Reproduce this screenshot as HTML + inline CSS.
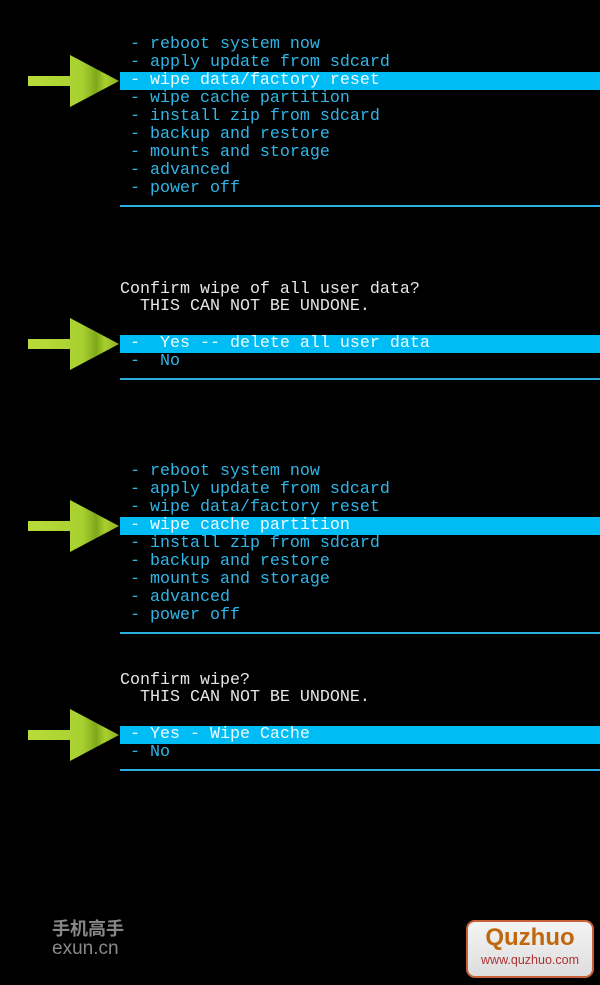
<!DOCTYPE html>
<html><head><meta charset="utf-8"><style>
html,body{margin:0;padding:0;background:#000;}
body{width:600px;height:985px;position:relative;overflow:hidden;font-family:"Liberation Mono","DejaVu Sans Mono",monospace;}
.t{position:absolute;left:120px;height:18px;line-height:18px;font-size:16.67px;white-space:pre;color:#2fb6e8;}
.w{color:#e6e6e6;}
.hl{background:#00bcf5;color:#f0fbff;width:480px;}
.ln{position:absolute;left:120px;width:480px;height:2px;background:#2aaee0;}
.arr{position:absolute;left:28px;width:92px;height:52px;}
</style></head><body>

<div class="t" style="top:36px"> - reboot system now</div>
<div class="t" style="top:54px"> - apply update from sdcard</div>
<div class="t hl" style="top:72px"> - wipe data/factory reset</div>
<div class="t" style="top:90px"> - wipe cache partition</div>
<div class="t" style="top:108px"> - install zip from sdcard</div>
<div class="t" style="top:126px"> - backup and restore</div>
<div class="t" style="top:144px"> - mounts and storage</div>
<div class="t" style="top:162px"> - advanced</div>
<div class="t" style="top:180px"> - power off</div>
<div class="ln" style="top:205px"></div>

<div class="t w" style="top:281px">Confirm wipe of all user data?</div>
<div class="t w" style="top:298px">  THIS CAN NOT BE UNDONE.</div>
<div class="t hl" style="top:335px"> -  Yes -- delete all user data</div>
<div class="t" style="top:353px"> -  No</div>
<div class="ln" style="top:378px"></div>

<div class="t" style="top:463px"> - reboot system now</div>
<div class="t" style="top:481px"> - apply update from sdcard</div>
<div class="t" style="top:499px"> - wipe data/factory reset</div>
<div class="t hl" style="top:517px"> - wipe cache partition</div>
<div class="t" style="top:535px"> - install zip from sdcard</div>
<div class="t" style="top:553px"> - backup and restore</div>
<div class="t" style="top:571px"> - mounts and storage</div>
<div class="t" style="top:589px"> - advanced</div>
<div class="t" style="top:607px"> - power off</div>
<div class="ln" style="top:632px"></div>

<div class="t w" style="top:672px">Confirm wipe?</div>
<div class="t w" style="top:689px">  THIS CAN NOT BE UNDONE.</div>
<div class="t hl" style="top:726px"> - Yes - Wipe Cache</div>
<div class="t" style="top:744px"> - No</div>
<div class="ln" style="top:769px"></div>

<svg width="0" height="0" style="position:absolute"><defs>
<linearGradient id="g" x1="0" x2="1" y1="0" y2="0">
<stop offset="0" stop-color="#b8dc3a"/><stop offset="0.6" stop-color="#a8d030"/><stop offset="0.75" stop-color="#7fa81a"/><stop offset="0.85" stop-color="#a9cf2e"/><stop offset="1" stop-color="#8cb020"/></linearGradient></defs></svg>
<svg class="arr" style="top:55px" viewBox="0 0 92 52"><path d="M0 21H42V0L91 26L42 52V31H0Z" fill="url(#g)"/></svg>
<svg class="arr" style="top:318px" viewBox="0 0 92 52"><path d="M0 21H42V0L91 26L42 52V31H0Z" fill="url(#g)"/></svg>
<svg class="arr" style="top:500px" viewBox="0 0 92 52"><path d="M0 21H42V0L91 26L42 52V31H0Z" fill="url(#g)"/></svg>
<svg class="arr" style="top:709px" viewBox="0 0 92 52"><path d="M0 21H42V0L91 26L42 52V31H0Z" fill="url(#g)"/></svg>

<div style="position:absolute;left:52px;top:919px;font-family:'Liberation Sans','Noto Sans CJK SC',sans-serif;font-size:18px;font-weight:bold;color:#888;line-height:20px;">手机高手</div>
<div style="position:absolute;left:52px;top:939px;font-family:'Liberation Sans',sans-serif;font-size:19px;color:#888;line-height:20px;">exun.cn</div>

<div style="position:absolute;left:466px;top:920px;width:124px;height:54px;border:2px solid #c8603a;border-radius:9px;background:linear-gradient(#f4f4f4,#ddd);text-align:center;font-family:'Liberation Sans',sans-serif;">
<div style="font-size:24px;font-weight:bold;color:#c0680e;line-height:28px;margin-top:2px;">Quzhuo</div>
<div style="font-size:12.5px;color:#a33;line-height:16px;">www.quzhuo.com</div>
</div>
</body></html>
